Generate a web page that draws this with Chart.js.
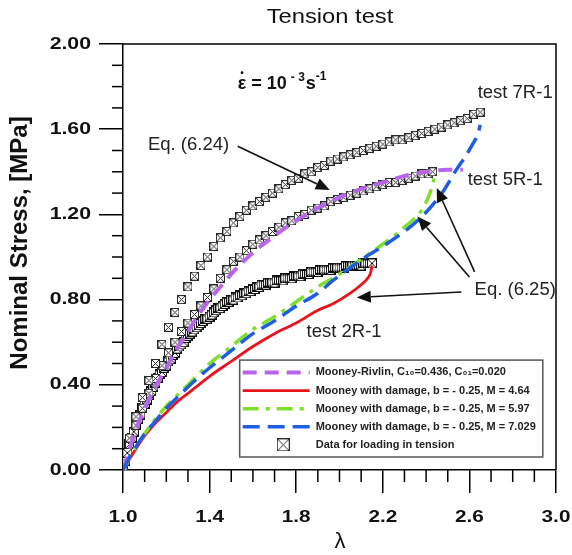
<!DOCTYPE html>
<html><head><meta charset="utf-8">
<script src="https://cdn.jsdelivr.net/npm/chart.js@4"></script>
<style>html,body{margin:0;padding:0;background:#fff}</style>
</head><body>
<canvas id="c" width="572" height="555"></canvas>
<script>
// ---- data ----
const xTicks = [1.0, 1.4, 1.8, 2.2, 2.6, 3.0];
const yTicks = [0.00, 0.40, 0.80, 1.20, 1.60, 2.00];

const lambda7R = [1.00,1.03,1.06,1.09,1.12,1.15,1.18,1.21,1.24,1.27,1.30,1.33,1.36,1.39,1.42,1.45,1.48,1.51,1.54,1.57,1.60,1.63,1.66,1.69,1.72,1.75,1.78,1.81,1.84,1.87,1.90,1.93,1.96,1.99,2.02,2.05,2.08,2.11,2.14,2.17,2.20,2.23,2.26,2.29,2.32,2.35,2.38,2.41,2.44,2.47,2.50,2.53,2.56,2.59,2.62,2.65];
const stress7R = [0.00,0.15,0.25,0.34,0.42,0.50,0.59,0.67,0.74,0.80,0.86,0.91,0.96,1.00,1.05,1.09,1.12,1.16,1.19,1.22,1.24,1.26,1.28,1.30,1.32,1.34,1.36,1.37,1.39,1.40,1.42,1.43,1.45,1.46,1.47,1.48,1.49,1.50,1.51,1.52,1.53,1.54,1.55,1.55,1.56,1.57,1.58,1.59,1.60,1.61,1.62,1.63,1.64,1.65,1.67,1.68];

const lambda5R = [1.00,1.03,1.06,1.09,1.12,1.15,1.18,1.21,1.24,1.27,1.30,1.33,1.36,1.39,1.42,1.45,1.48,1.51,1.54,1.57,1.60,1.63,1.66,1.69,1.72,1.75,1.78,1.81,1.84,1.87,1.90,1.93,1.96,1.99,2.02,2.05,2.08,2.11,2.14,2.17,2.20,2.23,2.26,2.29,2.32,2.35,2.38,2.41,2.43];
const stress5R = [0.00,0.12,0.21,0.29,0.36,0.43,0.49,0.55,0.60,0.65,0.69,0.73,0.77,0.81,0.85,0.90,0.94,0.98,1.00,1.03,1.06,1.08,1.10,1.12,1.14,1.16,1.17,1.19,1.20,1.22,1.23,1.24,1.26,1.27,1.28,1.29,1.30,1.31,1.32,1.33,1.34,1.35,1.35,1.36,1.37,1.38,1.39,1.39,1.40];

const lambda2R = [1.00,1.01,1.02,1.03,1.04,1.05,1.06,1.07,1.08,1.09,1.10,1.11,1.12,1.13,1.14,1.15,1.16,1.17,1.18,1.19,1.20,1.21,1.22,1.23,1.24,1.25,1.26,1.27,1.28,1.29,1.30,1.31,1.32,1.33,1.34,1.35,1.36,1.37,1.38,1.39,1.40,1.41,1.42,1.43,1.44,1.45,1.46,1.47,1.48,1.49,1.50,1.51,1.52,1.53,1.54,1.55,1.56,1.57,1.58,1.59,1.60,1.61,1.62,1.63,1.64,1.65,1.66,1.67,1.68,1.69,1.70,1.71,1.72,1.73,1.74,1.75,1.76,1.77,1.78,1.79,1.80,1.81,1.82,1.83,1.84,1.85,1.86,1.87,1.88,1.89,1.90,1.91,1.92,1.93,1.94,1.95,1.96,1.97,1.98,1.99,2.00,2.01,2.02,2.03,2.04,2.05,2.06,2.07,2.08,2.09,2.10,2.11,2.12,2.13,2.14,2.15];
const stress2R = [0.00,0.04,0.08,0.12,0.15,0.18,0.21,0.24,0.26,0.29,0.31,0.33,0.35,0.37,0.39,0.41,0.43,0.45,0.46,0.48,0.49,0.51,0.52,0.54,0.55,0.57,0.58,0.59,0.60,0.62,0.63,0.64,0.65,0.66,0.67,0.68,0.69,0.70,0.71,0.71,0.72,0.73,0.74,0.75,0.76,0.76,0.77,0.78,0.79,0.79,0.80,0.80,0.81,0.81,0.82,0.82,0.83,0.83,0.84,0.84,0.85,0.85,0.86,0.86,0.87,0.87,0.87,0.88,0.88,0.88,0.88,0.89,0.89,0.89,0.89,0.90,0.90,0.90,0.90,0.91,0.91,0.91,0.91,0.92,0.92,0.92,0.92,0.93,0.93,0.93,0.93,0.94,0.94,0.94,0.94,0.94,0.94,0.95,0.95,0.95,0.95,0.95,0.95,0.96,0.96,0.96,0.96,0.96,0.96,0.96,0.96,0.97,0.97,0.97,0.97,0.97];

const lambdaMR = [1.00,1.05,1.10,1.15,1.20,1.25,1.30,1.35,1.40,1.45,1.50,1.60,1.70,1.80,1.90,2.00,2.10,2.20,2.30,2.40,2.50,2.57];
const stressMR = [0.00,0.16,0.29,0.39,0.48,0.57,0.65,0.73,0.80,0.86,0.92,1.02,1.10,1.17,1.23,1.28,1.32,1.35,1.38,1.40,1.41,1.41];

const lambdaM464 = [1.00,1.03,1.06,1.10,1.15,1.20,1.25,1.30,1.35,1.40,1.50,1.60,1.70,1.80,1.90,1.97,2.05,2.10,2.13,2.145,2.15];
const stressM464 = [0.00,0.05,0.10,0.16,0.22,0.27,0.32,0.36,0.40,0.44,0.51,0.58,0.64,0.69,0.75,0.78,0.83,0.87,0.90,0.93,0.96];

const lambdaM597 = [1.00,1.03,1.06,1.10,1.15,1.20,1.30,1.40,1.50,1.60,1.70,1.80,1.90,2.00,2.10,2.20,2.30,2.38,2.41,2.43,2.44];
const stressM597 = [0.00,0.06,0.11,0.17,0.24,0.30,0.40,0.50,0.58,0.66,0.72,0.79,0.86,0.92,0.99,1.06,1.14,1.22,1.28,1.34,1.39];

const lambdaM7029 = [1.00,1.03,1.06,1.10,1.15,1.20,1.25,1.30,1.40,1.50,1.60,1.70,1.80,1.90,1.97,2.05,2.12,2.20,2.30,2.36,2.40,2.48,2.54,2.58,2.615,2.64,2.65];
const stressM7029 = [0.00,0.06,0.11,0.17,0.23,0.29,0.34,0.39,0.48,0.56,0.64,0.70,0.77,0.83,0.89,0.95,1.00,1.05,1.12,1.17,1.21,1.31,1.41,1.47,1.53,1.58,1.62];

const legendLabels = ["Mooney-Rivlin, C\u2081\u2080=0.436, C\u2080\u2081=0.020",
  "Mooney with damage, b = - 0.25, M = 4.64",
  "Mooney with damage, b = - 0.25, M = 5.97",
  "Mooney with damage, b = - 0.25, M = 7.029",
  "Data for loading in tension"];

// ---- helpers ----
const FONT = "'Liberation Sans', Arial, Helvetica, sans-serif";
const pts = (xs, ys) => xs.map((x, i) => ({x, y: ys[i]}));
function makeMarker(w, h, stroke) {
  const c = document.createElement('canvas');
  c.width = w; c.height = h;
  const g = c.getContext('2d');
  g.fillStyle = '#fff'; g.fillRect(0, 0, w, h);
  g.strokeStyle = stroke || '#2a2a2a'; g.lineWidth = 1;
  g.strokeRect(0.5, 0.5, w - 1, h - 1);
  g.beginPath(); g.moveTo(1, 1); g.lineTo(w - 1, h - 1); g.moveTo(w - 1, 1); g.lineTo(1, h - 1); g.stroke();
  return c;
}
const marker = makeMarker(9, 9);
const markerDense = makeMarker(10, 10, '#111');

const C_PURPLE = '#b864ec', C_RED = '#e8141c', C_GREEN = '#7fe02c', C_BLUE = '#1e5ee6';
const lineStyles = [
  {color: C_PURPLE, dash: [14, 8], width: 4},
  {color: C_RED, dash: [], width: 2.8},
  {color: C_GREEN, dash: [16, 7, 4, 7], width: 3.5},
  {color: C_BLUE, dash: [17, 8], width: 3.5}
];

const lineDS = (label, data, st, order) => ({
  label, data, showLine: true, borderColor: st.color, backgroundColor: st.color,
  borderWidth: st.width, borderDash: st.dash, pointRadius: 0, cubicInterpolationMode: 'monotone', order
});
const markDS = (label, data, m, order) => ({
  label, data, showLine: false, pointStyle: m, pointRadius: 5, order
});

const datasets = [
  lineDS(legendLabels[3], pts(lambdaM7029, stressM7029), lineStyles[3], 0),
  lineDS(legendLabels[2], pts(lambdaM597, stressM597), lineStyles[2], 1),
  lineDS(legendLabels[1], pts(lambdaM464, stressM464), lineStyles[1], 2),
  lineDS(legendLabels[0], pts(lambdaMR, stressMR), lineStyles[0], 3),
  markDS('test 7R-1', pts(lambda7R, stress7R), marker, 4),
  markDS('test 5R-1', pts(lambda5R, stress5R), marker, 5),
  markDS('test 2R-1', pts(lambda2R, stress2R), markerDense, 6)
];

// annotations in data coordinates
const arrows = [
  {from: [1.53, 1.52], to: [1.955, 1.315]},
  {from: [2.563, 0.836], to: [2.08, 0.81]},
  {from: [2.624, 0.93], to: [2.449, 1.324]},
  {from: [2.60, 0.906], to: [2.36, 1.19]}
];
const labels = [
  {text: 'Eq. (6.24)', at: [1.115, 1.526]},
  {text: 'test 7R-1', at: [2.638, 1.77]},
  {text: 'test 5R-1', at: [2.592, 1.362]},
  {text: 'Eq. (6.25)', at: [2.624, 0.845]},
  {text: 'test 2R-1', at: [1.848, 0.648]}
];

function sText(ctx, text, x, y, sx, align) {
  ctx.save(); ctx.translate(x, y); ctx.scale(sx, 1); ctx.textAlign = align; ctx.fillText(text, 0, 0); ctx.restore();
}

const decor = {
  id: 'decor',
  afterDatasetsDraw(chart) {
    const {ctx, chartArea: a, scales: {x, y}} = chart;
    ctx.save();
    // frame
    ctx.strokeStyle = '#000'; ctx.lineWidth = 1.5;
    ctx.beginPath(); ctx.moveTo(a.left, a.top); ctx.lineTo(a.right, a.top); ctx.lineTo(a.right, a.bottom); ctx.stroke();
    // minor ticks
    for (let i = 0; i <= 20; i++) {
      if (i % 4 === 0) continue;
      const py = y.getPixelForValue(i / 10);
      ctx.beginPath(); ctx.moveTo(a.left - 11, py); ctx.lineTo(a.left, py); ctx.stroke();
      const px = x.getPixelForValue(1 + i / 10);
      ctx.beginPath(); ctx.moveTo(px, a.bottom); ctx.lineTo(px, a.bottom + 12); ctx.stroke();
    }
    // tick labels
    ctx.fillStyle = '#111'; ctx.font = 'bold 17px ' + FONT; ctx.textBaseline = 'middle';
    y.ticks.forEach(t => sText(ctx, Number(t.value).toFixed(2), a.left - 32, y.getPixelForValue(t.value), 1.25, 'right'));
    x.ticks.forEach(t => sText(ctx, Number(t.value).toFixed(1), x.getPixelForValue(t.value), 517, 1.22, 'center'));
    // title
    ctx.font = '21px ' + FONT; ctx.textBaseline = 'middle';
    sText(ctx, 'Tension test', 330, 17, 1.13, 'center');
    // y title
    ctx.save(); ctx.translate(20, 243); ctx.rotate(-Math.PI / 2);
    ctx.font = 'bold 24px ' + FONT; ctx.textAlign = 'center'; ctx.fillText('Nominal Stress, [MPa]', 0, 0); ctx.restore();
    // x title
    ctx.font = '22px ' + FONT; ctx.textAlign = 'center'; ctx.fillText('\u03bb', 340, 542);
    // strain rate
    ctx.textAlign = 'left'; ctx.textBaseline = 'alphabetic';
    let px = x.getPixelForValue(1.53), py = y.getPixelForValue(1.79);
    ctx.font = 'bold 18px ' + FONT;
    const ew = ctx.measureText('\u03b5').width;
    ctx.fillText('\u03b5', px, py);
    ctx.beginPath(); ctx.arc(px + ew / 2, py - 16, 1.4, 0, Math.PI * 2); ctx.fill();
    px += ew;
    ctx.fillText(' = 10', px, py); px += ctx.measureText(' = 10').width + 4;
    ctx.font = 'bold 12px ' + FONT; ctx.fillText('- 3', px, py - 8); px += ctx.measureText('- 3').width + 1;
    ctx.font = 'bold 18px ' + FONT; ctx.fillText('s', px, py); px += ctx.measureText('s').width;
    ctx.font = 'bold 12px ' + FONT; ctx.fillText('-1', px, py - 9);
    // labels
    ctx.font = '18.5px ' + FONT; ctx.textBaseline = 'middle'; ctx.fillStyle = '#222';
    labels.forEach(l => ctx.fillText(l.text, x.getPixelForValue(l.at[0]), y.getPixelForValue(l.at[1])));
    // arrows
    ctx.strokeStyle = '#111'; ctx.fillStyle = '#111'; ctx.lineWidth = 1.6;
    arrows.forEach(ar => {
      const x0 = x.getPixelForValue(ar.from[0]), y0 = y.getPixelForValue(ar.from[1]);
      const x1 = x.getPixelForValue(ar.to[0]), y1 = y.getPixelForValue(ar.to[1]);
      const ang = Math.atan2(y1 - y0, x1 - x0), L = 14, W = 6;
      const bx = x1 - L * Math.cos(ang), by = y1 - L * Math.sin(ang);
      ctx.beginPath(); ctx.moveTo(x0, y0); ctx.lineTo(bx, by); ctx.stroke();
      ctx.beginPath(); ctx.moveTo(x1, y1);
      ctx.lineTo(bx + W * Math.sin(ang), by - W * Math.cos(ang));
      ctx.lineTo(bx - W * Math.sin(ang), by + W * Math.cos(ang));
      ctx.closePath(); ctx.fill();
    });
    // legend
    const lx0 = x.getPixelForValue(1.539), lx1 = x.getPixelForValue(2.939);
    const ly0 = y.getPixelForValue(0.516), ly1 = y.getPixelForValue(0.061);
    ctx.fillStyle = '#fff'; ctx.fillRect(lx0, ly0, lx1 - lx0, ly1 - ly0);
    ctx.strokeStyle = '#555'; ctx.lineWidth = 1.5; ctx.strokeRect(lx0, ly0, lx1 - lx0, ly1 - ly0);
    const rowH = (ly1 - ly0) / 5.35;
    ctx.font = 'bold 11px ' + FONT; ctx.textBaseline = 'middle';
    legendLabels.forEach((t, i) => {
      const ry = ly0 + rowH * (0.68 + i);
      if (i < 4) {
        const st = lineStyles[i];
        ctx.save(); ctx.strokeStyle = st.color; ctx.lineWidth = st.width; ctx.setLineDash(st.dash);
        ctx.beginPath(); ctx.moveTo(lx0 + 3, ry); ctx.lineTo(lx0 + 70, ry); ctx.stroke(); ctx.restore();
      } else {
        const m = makeMarker(13, 13);
        ctx.drawImage(m, lx0 + 37, ry - 6.5);
      }
      ctx.fillStyle = '#222';
      sText(ctx, t, lx0 + 76, ry, 1.0, 'left');
    });
    ctx.restore();
  }
};

new Chart(document.getElementById('c').getContext('2d'), {
  type: 'scatter',
  data: {datasets},
  options: {
    responsive: false, animation: false,
    layout: {padding: {top: 44, right: 16, left: 0, bottom: 0}},
    plugins: {legend: {display: false}, tooltip: {enabled: false}, title: {display: false}},
    scales: {
      x: {
        type: 'linear', min: 1, max: 3,
        afterFit: s => { s.height = 85; },
        afterBuildTicks: s => { s.ticks = xTicks.map(v => ({value: v})); },
        ticks: {display: false},
        grid: {display: true, drawOnChartArea: false, drawTicks: true, tickLength: 23, color: '#000', lineWidth: 1.5},
        border: {display: true, color: '#000', width: 1.5}
      },
      y: {
        type: 'linear', min: 0, max: 2,
        afterFit: s => { s.width = 123; },
        afterBuildTicks: s => { s.ticks = yTicks.map(v => ({value: v})); },
        ticks: {display: false},
        grid: {display: true, drawOnChartArea: false, drawTicks: true, tickLength: 24, color: '#000', lineWidth: 1.5},
        border: {display: true, color: '#000', width: 1.5}
      }
    }
  },
  plugins: [decor]
});
</script>
</body></html>
